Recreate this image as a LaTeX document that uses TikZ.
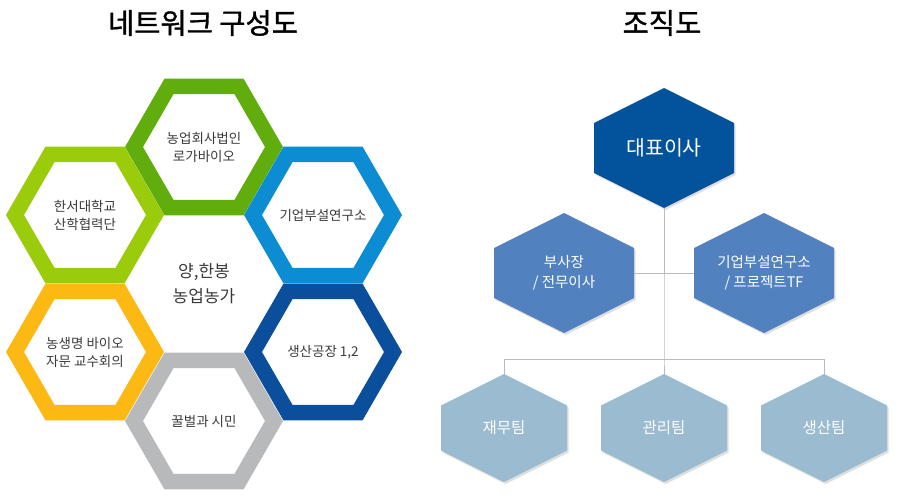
\documentclass[tikz,border=0pt]{standalone}
\usepackage{fontspec}
\setmainfont{Noto Sans CJK KR}
\newfontfamily\titlefont[FakeBold=1.2]{Noto Sans CJK KR}
\usetikzlibrary{calc}
\definecolor{gDark}{HTML}{60AD0D}
\definecolor{gLight}{HTML}{9ACC0C}
\definecolor{bLight}{HTML}{0C8CD3}
\definecolor{yOr}{HTML}{FCB813}
\definecolor{bDark}{HTML}{0B4F9C}
\definecolor{grRing}{HTML}{B7B9BB}
\definecolor{ceoC}{HTML}{03539C}
\definecolor{midC}{HTML}{5181BE}
\definecolor{teamC}{HTML}{9BBBD1}
\definecolor{lineC}{HTML}{BBBBBB}
\definecolor{txtC}{HTML}{3A3A3A}
\tikzset{
  ringtext/.style={text=txtC, font=\fontsize{13.5}{18}\selectfont, align=center, inner sep=0pt},
  centertext/.style={text=txtC, font=\fontsize{17}{25}\selectfont, align=center, inner sep=0pt},
  titletext/.style={text=black, font=\titlefont\fontsize{28.5}{34}\selectfont, inner sep=0pt},
  orgtext/.style={text=white, align=center, inner sep=0pt},
  conn/.style={draw=lineC, line width=1pt},
}
% ring: center, color
\newcommand\hexring[2]{%
  \fill[#2, even odd rule, shift={#1}]
    (0:79) -- (60:79) -- (120:79) -- (180:79) -- (240:79) -- (300:79) -- cycle
    (0:61) -- (60:61) -- (120:61) -- (180:61) -- (240:61) -- (300:61) -- cycle;}
% org hexagon: name, cx, cy, half width, half height, color
\newcommand\orghex[6]{%
  \pgfmathsetmacro\hs{#4/2}%
  \fill[black, opacity=0.13, shift={(#2+1.5,#3+2)}]
    (0,-#5) -- (#4,-#5+\hs) -- (#4,#5-\hs) -- (0,#5) -- (-#4,#5-\hs) -- (-#4,-#5+\hs) -- cycle;
  \fill[#6, shift={(#2,#3)}]
    (0,-#5) -- (#4,-#5+\hs) -- (#4,#5-\hs) -- (0,#5) -- (-#4,#5-\hs) -- (-#4,-#5+\hs) -- cycle;
  \coordinate (#1-t) at (#2,#3-#5);
  \coordinate (#1-b) at (#2,#3+#5);
  \coordinate (#1-l) at (#2-#4,#3);
  \coordinate (#1-r) at (#2+#4,#3);}
\begin{document}
\begin{tikzpicture}[x=1pt,y=-1pt]
\useasboundingbox (0,0) rectangle (900,500);
% titles
\node[titletext] (title1) at (203,23) {네트워크 구성도};
\node[titletext] (title2) at (662,23) {조직도};
% honeycomb
\hexring{(204,147)}{gDark}
\hexring{(85,215)}{gLight}
\hexring{(323,215)}{bLight}
\hexring{(85,352)}{yOr}
\hexring{(323,352)}{bDark}
\hexring{(204,421)}{grRing}
\node[ringtext] (corp) at (204,147) {농업회사법인\\로가바이오};
\node[ringtext] (univ) at (85,215) {한서대학교\\산학협력단};
\node[ringtext] (lab) at (323,215) {기업부설연구소};
\node[ringtext] (bio) at (85,352) {농생명 바이오\\자문 교수회의};
\node[ringtext] (plant) at (323,352) {생산공장 1,2};
\node[ringtext] (bee) at (204,421) {꿀벌과 시민};
\node[centertext] (farm) at (204,284) {양,한봉\\농업농가};
% org chart
\coordinate (bus) at (664,359);
\orghex{ceo}{664}{148}{70}{60}{ceoC}
\orghex{vp}{564}{273}{70}{60}{midC}
\orghex{rnd}{764}{273}{70}{60}{midC}
\orghex{fin}{504}{428}{63}{54}{teamC}
\orghex{mgmt}{664}{428}{63}{54}{teamC}
\orghex{prod}{824}{428}{63}{54}{teamC}
\draw[conn] (ceo-b) -- (vp-r -| ceo-b);
\draw[conn] (vp-r) -- (rnd-l);
\draw[conn] (vp-r -| ceo-b) -- (bus) -- (mgmt-t);
\draw[conn] (fin-t) -- (fin-t |- bus) -- (prod-t |- bus) -- (prod-t);
\node[orgtext, font=\fontsize{20.5}{26}\selectfont] (ceo) at (664,148) {대표이사};
\node[orgtext, font=\fontsize{14.5}{20}\selectfont] (vp) at (564,273) {부사장\\/ 전무이사};
\node[orgtext, font=\fontsize{14.5}{20}\selectfont] (rnd) at (764,273) {기업부설연구소\\/ 프로젝트TF};
\node[orgtext, font=\fontsize{15.5}{20}\selectfont] (fin) at (504,428) {재무팀};
\node[orgtext, font=\fontsize{15.5}{20}\selectfont] (mgmt) at (664,428) {관리팀};
\node[orgtext, font=\fontsize{15.5}{20}\selectfont] (prod) at (824,428) {생산팀};
\end{tikzpicture}
\end{document}
